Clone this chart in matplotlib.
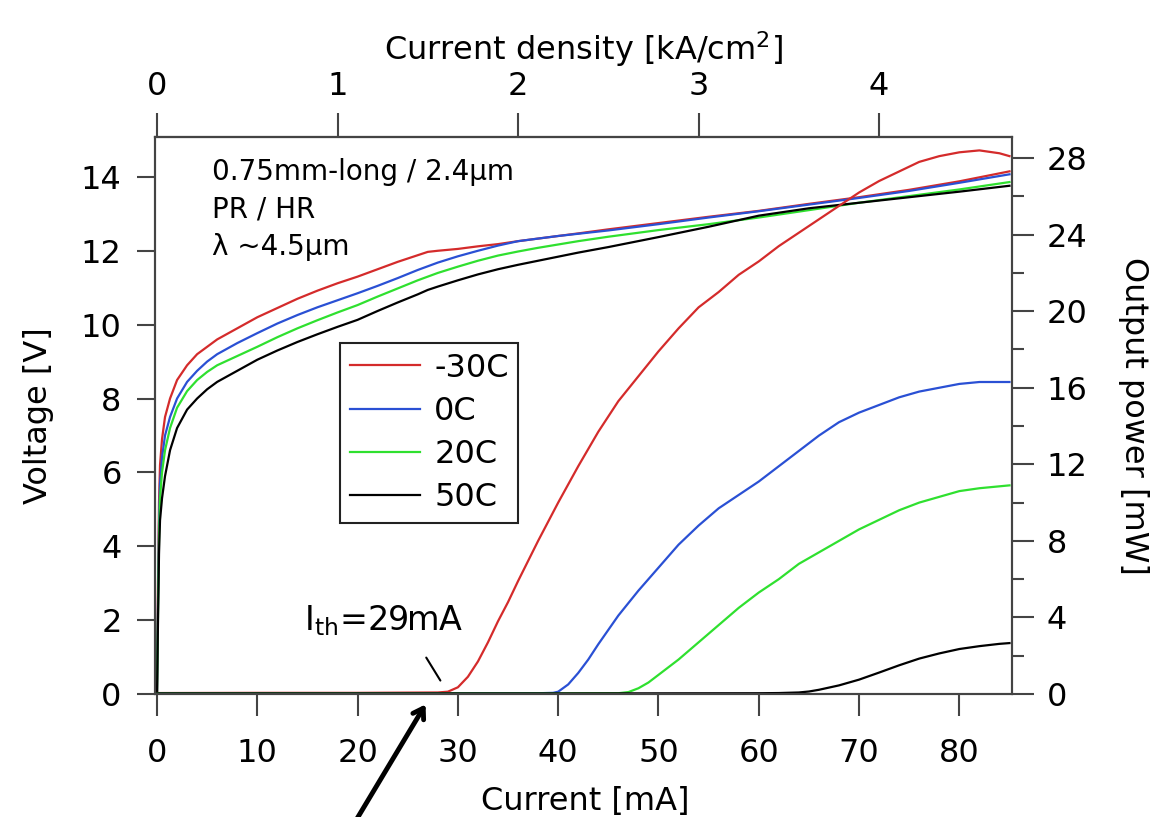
import numpy as np
import matplotlib
matplotlib.use('Agg')
import matplotlib.pyplot as plt
from matplotlib.ticker import MultipleLocator

plt.rcParams['font.family'] = ['DejaVu Sans']
plt.rcParams['mathtext.default'] = 'regular'

# labels / colors
labels = ['-30C', '0C', '20C', '50C']
colors = ['#d42b2b', '#2a50d4', '#2fe02f', '#000000']

# voltage (V) vs current (mA)
i_v = [0, 0.1, 0.2, 0.3, 0.5, 0.8, 1.3, 2, 3, 4, 5, 6, 8, 10, 12, 14, 16, 18, 20,
       22, 24, 26, 27, 28, 30, 32, 34, 36, 38, 40, 42, 45, 50, 55, 60, 65, 70, 75, 80, 85]
v_m30 = [0, 3.0, 5.2, 6.2, 6.9, 7.5, 8.0, 8.5, 8.9, 9.2, 9.4, 9.6, 9.9, 10.2, 10.45, 10.7, 10.92, 11.12, 11.3,
         11.5, 11.7, 11.88, 11.97, 12.0, 12.05, 12.12, 12.18, 12.26, 12.33, 12.4, 12.47, 12.58, 12.75, 12.92, 13.08, 13.27, 13.45, 13.65, 13.88, 14.15]
v_0 = [0, 2.5, 4.6, 5.7, 6.4, 7.0, 7.5, 8.0, 8.45, 8.75, 9.0, 9.2, 9.5, 9.77, 10.03, 10.26, 10.47, 10.66, 10.85,
       11.05, 11.26, 11.48, 11.58, 11.68, 11.85, 12.0, 12.14, 12.26, 12.33, 12.4, 12.46, 12.55, 12.72, 12.9, 13.07, 13.25, 13.43, 13.62, 13.84, 14.07]
v_20 = [0, 2.2, 4.2, 5.3, 6.0, 6.6, 7.2, 7.75, 8.2, 8.5, 8.72, 8.9, 9.15, 9.4, 9.66, 9.9, 10.12, 10.33, 10.53,
        10.76, 10.98, 11.2, 11.3, 11.4, 11.57, 11.73, 11.87, 11.98, 12.08, 12.17, 12.26, 12.38, 12.56, 12.72, 12.9, 13.1, 13.3, 13.48, 13.66, 13.86]
v_50 = [0, 2.0, 3.8, 4.7, 5.3, 5.9, 6.6, 7.2, 7.7, 8.0, 8.25, 8.45, 8.75, 9.05, 9.3, 9.53, 9.74, 9.94, 10.13,
        10.37, 10.6, 10.82, 10.94, 11.03, 11.2, 11.36, 11.5, 11.62, 11.73, 11.84, 11.95, 12.1, 12.37, 12.65, 12.95, 13.15, 13.3, 13.45, 13.6, 13.76]

# output power (mW) vs current (mA)
i_p_m30 = [0, 10, 20, 28, 29, 30, 31, 32, 33, 34, 35, 36, 38, 40, 42, 44, 46, 48, 50, 52, 54, 56, 58,
           60, 62, 64, 66, 68, 70, 72, 74, 76, 78, 80, 82, 84, 85]
p_m30 = [0.05, 0.06, 0.06, 0.08, 0.12, 0.35, 0.9, 1.7, 2.7, 3.8, 4.8, 5.9, 8.0, 10.0, 11.9, 13.7, 15.3, 16.6, 17.9, 19.1, 20.2, 21.0, 21.9,
         22.6, 23.4, 24.1, 24.8, 25.5, 26.2, 26.8, 27.3, 27.8, 28.1, 28.3, 28.4, 28.25, 28.1]
i_p_0 = [0, 20, 38, 39.5, 40, 41, 42, 43, 44, 46, 48, 50, 52, 54, 56, 58, 60, 62, 64, 66, 68, 70,
         72, 74, 76, 78, 80, 82, 84, 85]
p_0 = [0.03, 0.03, 0.04, 0.06, 0.12, 0.5, 1.1, 1.8, 2.6, 4.1, 5.4, 6.6, 7.8, 8.8, 9.7, 10.4, 11.1, 11.9, 12.7, 13.5, 14.2, 14.7,
       15.1, 15.5, 15.8, 16.0, 16.2, 16.3, 16.3, 16.3]
i_p_20 = [0, 20, 40, 46, 47, 48, 49, 50, 52, 54, 56, 58, 60, 62, 64, 66, 68, 70, 72, 74, 76, 78, 80, 82, 84, 85]
p_20 = [0.03, 0.03, 0.03, 0.04, 0.1, 0.3, 0.6, 1.0, 1.8, 2.7, 3.6, 4.5, 5.3, 6.0, 6.8, 7.4, 8.0, 8.6, 9.1, 9.6, 10.0, 10.3, 10.6, 10.75, 10.85, 10.9]
i_p_50 = [0, 20, 40, 60, 62, 64, 65, 66, 68, 70, 72, 74, 76, 78, 80, 82, 84, 85]
p_50 = [0.03, 0.03, 0.03, 0.04, 0.05, 0.08, 0.13, 0.22, 0.45, 0.75, 1.12, 1.5, 1.85, 2.12, 2.35, 2.5, 2.62, 2.66]

v_list = [v_m30, v_0, v_20, v_50]
i_p_list = [i_p_m30, i_p_0, i_p_20, i_p_50]
p_list = [p_m30, p_0, p_20, p_50]

spine_c = '#444444'
fs = 23

fig = plt.figure(figsize=(11.6, 8.17), dpi=100)
ax = fig.add_axes([155/1160, 1-694/817, (1012-155)/1160, (694-137)/817])
ax2 = ax.twinx()

handles = []
for v, c, lab in zip(v_list, colors, labels):
    h, = ax.plot(i_v, v, color=c, lw=1.6, label=lab)
    handles.append(h)
for ip, p, c in zip(i_p_list, p_list, colors):
    ax2.plot(ip, p, color=c, lw=1.6)

ax.set_xlim(-0.2, 85.25)
ax.set_ylim(0, 15.08)
ax2.set_ylim(0, 29.1)

ax.set_xticks(np.arange(0, 81, 10))
ax.set_yticks(np.arange(0, 15, 2))
ax2.yaxis.set_major_locator(MultipleLocator(4))
ax2.yaxis.set_minor_locator(MultipleLocator(2))

for a in (ax, ax2):
    for s in a.spines.values():
        s.set_color(spine_c)
        s.set_linewidth(1.5)

ax.tick_params(axis='y', direction='out', length=13, width=1.5, color=spine_c, labelsize=fs, pad=11)
ax.tick_params(axis='x', direction='out', length=16, width=1.5, color=spine_c, labelsize=fs, pad=16)
ax2.tick_params(axis='y', which='major', direction='out', length=16, width=1.5, color=spine_c, labelsize=fs, pad=9)
ax2.tick_params(axis='y', which='minor', direction='out', length=8.5, width=1.5, color=spine_c)

ax.set_xlabel('Current [mA]', fontsize=fs)
ax.xaxis.set_label_coords(0.502, -0.165)
ax.set_ylabel('Voltage [V]', fontsize=fs)
ax.yaxis.set_label_coords(-0.118, 0.5)
ax2.set_ylabel('Output power [mW]', fontsize=fs, rotation=-90, va='bottom')
ax2.yaxis.set_label_coords(1.124, 0.5)

# top axis: current density (1 kA/cm2 = 18 mA)
top = ax.secondary_xaxis('top', functions=(lambda i: i / 18.0, lambda j: j * 18.0))
top.set_xticks([0, 1, 2, 3, 4])
top.tick_params(direction='out', length=17, width=1.5, color=spine_c, labelsize=fs, pad=8)
top.spines['top'].set_color(spine_c)
top.spines['top'].set_linewidth(1.5)
top.set_xlabel(r'Current density [kA/cm$^{2}$]', fontsize=fs, labelpad=8)

ax.text(0.0665, 0.962, '0.75mm-long / 2.4\u00b5m\nPR / HR\n\u03bb ~4.5\u00b5m', transform=ax.transAxes,
        fontsize=20, va='top', ha='left', linespacing=1.42)

leg = ax2.legend(handles, labels, loc='upper left', bbox_to_anchor=(0.216, 0.630), fontsize=fs,
                 frameon=True, fancybox=False, edgecolor='#222222', framealpha=1,
                 handlelength=2.2, handletextpad=0.45, labelspacing=0.38, borderpad=0.3,
                 borderaxespad=0)
leg.get_frame().set_linewidth(1.5)

# threshold annotation
ax.text(14.7, 1.73, r'I$_{th}$=29mA', fontsize=24, va='baseline', ha='left')
ax.annotate('', xy=(28.4, 0.3), xytext=(26.7, 1.05),
            arrowprops=dict(arrowstyle='-', lw=1.5, color='black'))
ax.annotate('', xy=(427, 115), xycoords='figure pixels', xytext=(352, -10), textcoords='figure pixels',
            arrowprops=dict(arrowstyle='->,head_length=0.7,head_width=0.45', lw=3.5, color='black'),
            annotation_clip=False)

fig.savefig('out.png', dpi=100)
